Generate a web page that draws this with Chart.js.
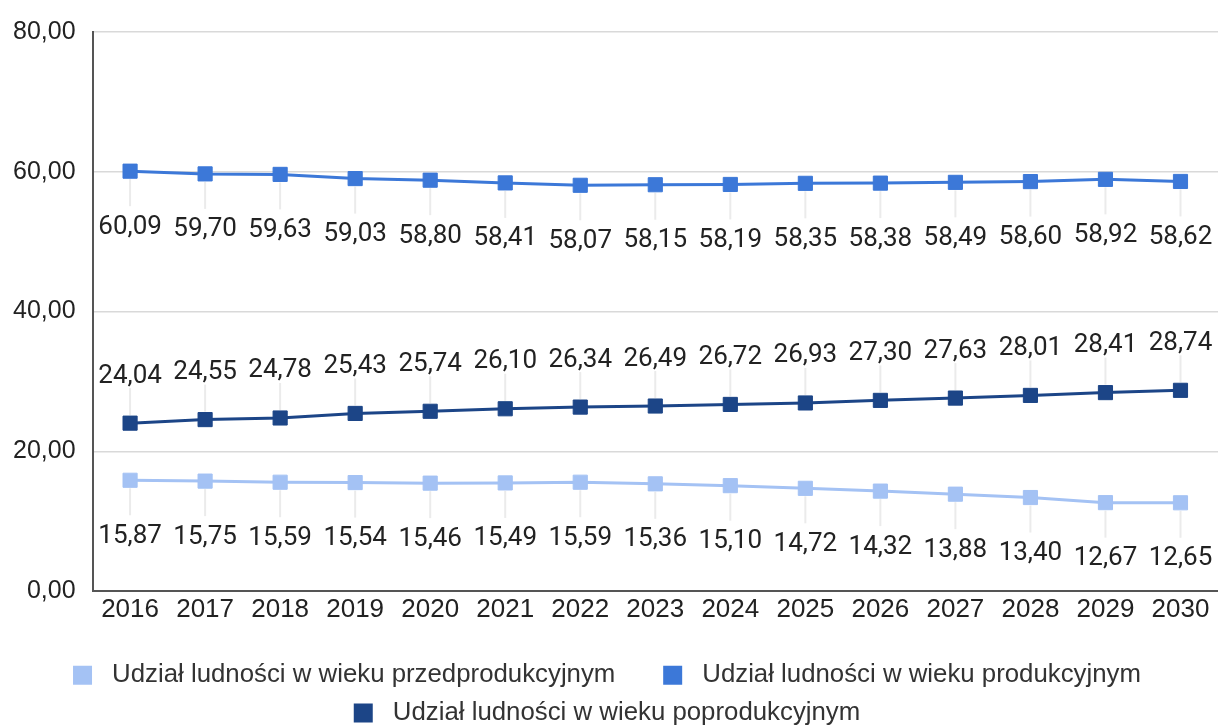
<!DOCTYPE html>
<html lang="pl">
<head>
<meta charset="UTF-8">
<title>Udział ludności</title>
<script src="https://cdn.jsdelivr.net/npm/chart.js@4"></script>
<style>
  html, body { margin: 0; padding: 0; background: #fff; }
</style>
</head>
<body>
<canvas id="chart" width="1218" height="725"></canvas>
<script>
// Lata i udziały (%)
const years = ['2016', '2017', '2018', '2019', '2020', '2021', '2022', '2023', '2024', '2025', '2026', '2027', '2028', '2029', '2030'];
const przedprodukcyjny = [15.87, 15.75, 15.59, 15.54, 15.46, 15.49, 15.59, 15.36, 15.10, 14.72, 14.32, 13.88, 13.40, 12.67, 12.65];
const produkcyjny = [60.09, 59.70, 59.63, 59.03, 58.80, 58.41, 58.07, 58.15, 58.19, 58.35, 58.38, 58.49, 58.60, 58.92, 58.62];
const poprodukcyjny = [24.04, 24.55, 24.78, 25.43, 25.74, 26.10, 26.34, 26.49, 26.72, 26.93, 27.30, 27.63, 28.01, 28.41, 28.74];
const seriesNames = [
  'Udział ludności w wieku przedprodukcyjnym',
  'Udział ludności w wieku produkcyjnym',
  'Udział ludności w wieku poprodukcyjnym'
];
const yTicks = [0, 20, 40, 60, 80];

const fmt = v => v.toFixed(2).replace('.', ',');

// Etykiety wartości z cienkimi liniami prowadzącymi
const valueLabels = {
  id: 'valueLabels',
  beforeDatasetsDraw(chart) {
    const ctx = chart.ctx;
    ctx.save();
    ctx.strokeStyle = '#ebebeb';
    ctx.lineWidth = 2;
    chart.data.datasets.forEach((ds, i) => {
      const dir = ds.labelSide === 'above' ? -1 : 1;
      chart.getDatasetMeta(i).data.forEach(pt => {
        ctx.beginPath();
        ctx.moveTo(pt.x, pt.y + dir * 8);
        ctx.lineTo(pt.x, pt.y + dir * 35);
        ctx.stroke();
      });
    });
    ctx.restore();
  },
  afterDatasetsDraw(chart) {
    const ctx = chart.ctx;
    ctx.save();
    ctx.font = '26px Roboto';
    ctx.fillStyle = '#222';
    ctx.textAlign = 'center';
    ctx.textBaseline = 'middle';
    chart.data.datasets.forEach((ds, i) => {
      const off = ds.labelSide === 'above' ? -47 : 56;
      chart.getDatasetMeta(i).data.forEach((pt, j) => {
        ctx.fillText(fmt(ds.data[j]), pt.x, pt.y + off);
      });
    });
    ctx.restore();
  }
};

function line(label, data, color, side) {
  return {
    label: label,
    data: data,
    borderColor: color,
    backgroundColor: color,
    borderWidth: 3,
    pointStyle: 'rect',
    pointRadius: 10,
    pointBorderWidth: 1,
    pointBackgroundColor: color,
    pointBorderColor: color,
    tension: 0,
    labelSide: side
  };
}

new Chart(document.getElementById('chart'), {
  type: 'line',
  data: {
    labels: years,
    datasets: [
      line(seriesNames[0], przedprodukcyjny, '#a4c2f4', 'below'),
      line(seriesNames[1], produkcyjny, '#3c78d8', 'below'),
      line(seriesNames[2], poprodukcyjny, '#1c4587', 'above')
    ]
  },
  options: {
    responsive: false,
    animation: false,
    layout: { autoPadding: false, padding: { left: -4, right: 0, top: 14, bottom: -11 } },
    scales: {
      x: {
        offset: true,
        grid: { display: false, drawTicks: false },
        border: { display: true, color: '#555', width: 2 },
        ticks: { color: '#222', padding: 3, font: { family: 'Liberation Sans', size: 26 } },
        afterFit: axis => { axis.height += 22; }
      },
      y: {
        min: 0,
        max: 80,
        afterBuildTicks: axis => { axis.ticks = yTicks.map(v => ({ value: v })); },
        grid: { color: '#d9d9d9', lineWidth: 1.5, drawTicks: false },
        border: { display: true, color: '#555', width: 2 },
        ticks: {
          color: '#222',
          padding: 17,
          font: { family: 'Liberation Sans', size: 25 },
          callback: v => fmt(v)
        }
      }
    },
    plugins: {
      tooltip: { enabled: false },
      legend: {
        position: 'bottom',
        labels: {
          boxWidth: 19,
          boxHeight: 19,
          padding: 12,
          color: '#333',
          font: { family: 'Liberation Sans', size: 25.8 },
          generateLabels: chart => {
            const items = Chart.defaults.plugins.legend.labels.generateLabels(chart);
            items.forEach((it, i) => {
              it.lineWidth = 0;
              it.text = ' ' + it.text + (i === 0 ? '     ' : '');
            });
            return items;
          }
        }
      }
    }
  },
  plugins: [valueLabels]
});
</script>
</body>
</html>
